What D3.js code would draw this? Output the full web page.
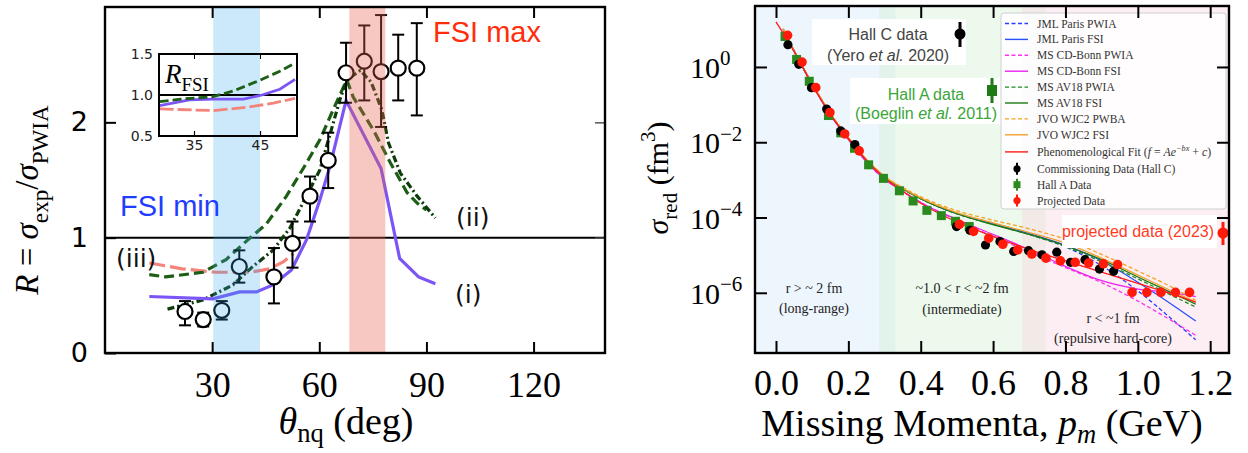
<!DOCTYPE html>
<html><head><meta charset="utf-8">
<script src="https://cdn.jsdelivr.net/npm/d3@7"></script>
<style>body{margin:0;background:#fff;} svg{display:block;}</style>
</head><body>
<svg id="c" width="1248" height="453"></svg>
<script>
// ================= LEFT PANEL DATA =================
const fsiMinBand = [30.3, 43.4];
const fsiMaxBand = [68.4, 78.5];
const thetaData = [22.4, 27.5, 32.7, 37.6, 47.3, 52.5, 57.4, 62.5, 67.5, 72.6, 77.3, 82.1, 87.3];
const RData     = [0.36, 0.29, 0.37, 0.75, 0.66, 0.95, 1.36, 1.67, 2.43, 2.53, 2.44, 2.47, 2.47];
const RErrLow   = [0.12, 0.06, 0.08, 0.14, 0.23, 0.21, 0.22, 0.24, 0.26, 0.34, 0.48, 0.28, 0.41];
const RErrHigh  = [0.09, 0.06, 0.08, 0.14, 0.25, 0.19, 0.17, 0.24, 0.26, 0.31, 0.49, 0.29, 0.39];

const curveI_theta = [12.4, 30.2, 37.7, 42.4, 47.0, 52.2, 56.4, 60.2, 63.0, 67.5, 77.3, 82.5, 87.8, 92.5];
const curveI_R     = [0.49, 0.47, 0.53, 0.53, 0.59, 0.72, 0.98, 1.33, 1.62, 2.19, 1.60, 0.82, 0.66, 0.60];
const curveDash_theta = [12.4, 17.0, 27.4, 33.9, 39.6, 45.2, 50.8, 55.5, 60.2, 63.9, 67.7, 69.5, 75.2, 79.9, 84.6, 87.4, 90.0];
const curveDash_R     = [0.68, 0.66, 0.70, 0.81, 0.97, 1.12, 1.36, 1.60, 1.85, 2.11, 2.37, 2.22, 1.93, 1.65, 1.39, 1.30, 1.24];
const curveDashDot_theta = [17.5, 27.4, 35.8, 41.4, 47.0, 51.7, 56.4, 60.2, 63.5, 65.8, 67.8, 71.5, 74.5, 77.5, 79.4, 82.7, 87.4, 92.5];
const curveDashDot_R     = [0.38, 0.46, 0.59, 0.75, 0.89, 1.08, 1.36, 1.59, 1.95, 2.20, 2.37, 2.45, 2.35, 2.11, 1.82, 1.56, 1.36, 1.17];
const curveIII_theta = [12.4, 21.7, 31.1, 40.5, 46.1, 49.9, 52.7];
const curveIII_R     = [0.78, 0.73, 0.70, 0.70, 0.73, 0.79, 0.86];

// inset (R_FSI)
const insetDash_theta = [29.8, 33.0, 37.9, 41.0, 45.0, 48.0, 50.3];
const insetDash_R     = [0.92, 0.95, 0.98, 1.05, 1.18, 1.29, 1.39];
const insetI_theta = [29.8, 34.3, 37.9, 42.5, 45.3, 48.0, 50.3];
const insetI_R     = [0.87, 0.94, 0.95, 0.95, 1.00, 1.07, 1.19];
const insetIII_theta = [29.8, 37.9, 43.0, 47.0, 50.3];
const insetIII_R     = [0.83, 0.81, 0.85, 0.90, 0.96];

const leftXTicks = [30, 60, 90, 120];
const leftYTicks = [0, 1, 2];
const insetXTicks = [35, 45];
const insetYTicks = [0.5, 1.0, 1.5];

// ================= RIGHT PANEL DATA (log10 of sigma_red in fm^3) =================
const regionBands = [[-0.058, 0.33], [0.285, 0.745], [0.68, 1.252]];
const pmModel = [0.02, 0.05, 0.1, 0.15, 0.2, 0.25, 0.3, 0.35, 0.4, 0.5, 0.6, 0.7, 0.8, 0.9, 1.0, 1.1, 1.16];
const jmlParisPWIA = [1.0, 0.42, -0.45, -1.25, -1.9, -2.48, -2.93, -3.23, -3.5, -3.9, -4.17, -4.45, -4.78, -5.28, -5.95, -6.75, -7.25];
const jmlParisFSI  = [1.0, 0.42, -0.45, -1.25, -1.9, -2.48, -2.93, -3.23, -3.5, -3.9, -4.17, -4.43, -4.74, -5.15, -5.72, -6.35, -6.75];
const msCDBonnPWIA = [1.0, 0.42, -0.46, -1.27, -1.93, -2.52, -2.98, -3.3, -3.6, -4.07, -4.5, -4.92, -5.33, -5.73, -6.22, -6.78, -7.13];
const msCDBonnFSI  = [1.0, 0.42, -0.46, -1.27, -1.93, -2.52, -2.98, -3.3, -3.6, -4.05, -4.45, -4.85, -5.3, -5.68, -5.9, -6.0, -6.1];
const msAV18PWIA   = [1.0, 0.42, -0.45, -1.25, -1.9, -2.48, -2.93, -3.24, -3.5, -3.9, -4.18, -4.45, -4.77, -5.18, -5.63, -6.1, -6.38];
const msAV18FSI    = [1.0, 0.42, -0.45, -1.25, -1.9, -2.48, -2.93, -3.24, -3.5, -3.9, -4.19, -4.45, -4.75, -5.12, -5.58, -6.03, -6.3];
const jvoWJC2PWBA  = [1.02, 0.44, -0.43, -1.22, -1.87, -2.45, -2.9, -3.2, -3.45, -3.82, -4.07, -4.3, -4.58, -4.98, -5.42, -5.88, -6.2];
const jvoWJC2FSI   = [1.01, 0.43, -0.44, -1.23, -1.88, -2.46, -2.91, -3.22, -3.48, -3.87, -4.14, -4.4, -4.68, -5.08, -5.53, -5.98, -6.25];
const fitPm  = [0.0, 0.05, 0.1, 0.15, 0.2, 0.25, 0.3, 0.35, 0.4, 0.5, 0.6, 0.7, 0.8, 0.9, 1.0, 1.1, 1.16];
const fitLog = [1.2, 0.42, -0.47, -1.25, -1.9, -2.48, -2.95, -3.3, -3.62, -4.12, -4.5, -4.85, -5.15, -5.45, -5.75, -6.05, -6.25];

const hallC_pm  = [0.033, 0.063, 0.098, 0.14, 0.179, 0.218, 0.499, 0.536, 0.579, 0.619, 0.657, 0.698, 0.735, 0.776, 0.814, 0.854, 0.894, 0.933];
const hallC_log = [0.59, 0.07, -0.55, -1.12, -1.70, -2.06, -4.24, -4.34, -4.73, -4.64, -4.90, -4.88, -4.99, -4.92, -5.19, -5.12, -5.37, -5.43];
const hallA_pm  = [0.025, 0.057, 0.092, 0.145, 0.179, 0.217, 0.256, 0.297, 0.341, 0.379, 0.417, 0.457, 0.496, 0.534];
const hallA_log = [0.81, 0.20, -0.38, -1.29, -1.75, -2.16, -2.60, -2.96, -3.29, -3.56, -3.81, -3.95, -4.10, -4.24];
const proj_pm  = [0.032, 0.072, 0.11, 0.149, 0.19, 0.23, 0.507, 0.546, 0.588, 0.627, 0.668, 0.707, 0.746, 0.786, 0.827, 0.864, 0.905, 0.944, 0.984, 1.025, 1.064, 1.104, 1.143];
const proj_log = [0.84, 0.13, -0.55, -1.21, -1.78, -2.23, -4.18, -4.37, -4.55, -4.71, -4.86, -4.97, -5.08, -5.15, -5.19, -5.21, -5.23, -5.25, -5.99, -5.99, -5.99, -5.99, -5.99];

const rightXTicks = [0.0, 0.2, 0.4, 0.6, 0.8, 1.0, 1.2];
const rightYExps = [0, -2, -4, -6];

const legendLabels = ["JML Paris PWIA", "JML Paris FSI", "MS CD-Bonn PWIA", "MS CD-Bonn FSI",
  "MS AV18 PWIA", "MS AV18 FSI", "JVO WJC2 PWBA", "JVO WJC2 FSI"];
const fitLabel = "Phenomenological Fit";
const markerLabels = ["Commissioning Data (Hall C)", "Hall A Data", "Projected Data"];

// ================= DRAWING =================
const svg = d3.select('#c');
svg.append('rect').attr('width', 1248).attr('height', 453).attr('fill', '#fff');
const SERIF = '"Liberation Serif", "DejaVu Serif", serif';
const SANS = '"Liberation Sans", Arial, sans-serif';
const DJV = '"DejaVu Sans", sans-serif';

function rich(sel, parts, size, subShift) {
  const sub = subShift == null ? 0.3 : subShift;
  let shift = 0;
  parts.forEach(([t, k]) => {
    const ts = sel.append('tspan').text(t);
    let target = 0, fs = size;
    if (k.includes('sub')) { target = sub * size; fs = size * 0.7; }
    if (k.includes('sup')) { target = -0.42 * size; fs = size * 0.7; }
    ts.attr('dy', target - shift).attr('font-size', fs);
    if (k.startsWith('i')) ts.attr('font-style', 'italic');
    shift = target;
  });
}
const zip = (a, b) => a.map((v, i) => [v, b[i]]);

// ---------- LEFT ----------
const xL = d3.scaleLinear().domain([0, 140]).range([105, 605]);
const yL = d3.scaleLinear().domain([0, 3]).range([353, 7]);
const L = svg.append('g');
L.append('clipPath').attr('id', 'clipL').append('rect')
  .attr('x', 105).attr('y', 7).attr('width', 500).attr('height', 346);
const Lp = L.append('g').attr('clip-path', 'url(#clipL)');

Lp.append('line').attr('x1', xL(0)).attr('x2', xL(140)).attr('y1', yL(1)).attr('y2', yL(1))
  .attr('stroke', '#000').attr('stroke-width', 2);

const lineL = d3.line().x(d => xL(d[0])).y(d => yL(d[1]));
Lp.append('path').attr('d', lineL(zip(curveIII_theta, curveIII_R))).attr('fill', 'none')
  .attr('stroke', '#f4837a').attr('stroke-width', 3.2).attr('stroke-dasharray', '16,5');
Lp.append('path').attr('d', lineL(zip(curveDash_theta, curveDash_R))).attr('fill', 'none')
  .attr('stroke', '#1d5e16').attr('stroke-width', 3.2).attr('stroke-dasharray', '10,5');
Lp.append('path').attr('d', lineL(zip(curveDashDot_theta, curveDashDot_R))).attr('fill', 'none')
  .attr('stroke', '#0d3b0a').attr('stroke-width', 3.2).attr('stroke-dasharray', '7,3,2,3');
Lp.append('path').attr('d', lineL(zip(curveI_theta, curveI_R))).attr('fill', 'none')
  .attr('stroke', '#7b55f5').attr('stroke-width', 3.2);

// data points
const pts = thetaData.map((t, i) => ({ t, r: RData[i], lo: RData[i] - RErrLow[i], hi: RData[i] + RErrHigh[i] }));
const eb = Lp.append('g').attr('stroke', '#000').attr('stroke-width', 2);
pts.forEach(p => {
  eb.append('line').attr('x1', xL(p.t)).attr('x2', xL(p.t)).attr('y1', yL(p.lo)).attr('y2', yL(p.hi));
  [p.lo, p.hi].forEach(v => eb.append('line').attr('x1', xL(p.t) - 6).attr('x2', xL(p.t) + 6)
    .attr('y1', yL(v)).attr('y2', yL(v)));
});
Lp.append('g').selectAll('circle').data(pts).join('circle')
  .attr('cx', d => xL(d.t)).attr('cy', d => yL(d.r)).attr('r', 7.5)
  .attr('fill', '#fff').attr('stroke', '#000').attr('stroke-width', 2.2);

// inset
const xI = d3.scaleLinear().domain([29.7, 50.6]).range([159, 297]);
const yI = d3.scaleLinear().domain([0.5, 1.5]).range([136, 54]);
L.append('clipPath').attr('id', 'clipI').append('rect').attr('x', 159).attr('y', 54).attr('width', 138).attr('height', 82);
const Ig = L.append('g');
const Ip = Ig.append('g').attr('clip-path', 'url(#clipI)');
Ip.append('line').attr('x1', 159).attr('x2', 297).attr('y1', yI(1)).attr('y2', yI(1)).attr('stroke', '#000').attr('stroke-width', 1.8);
const lineI = d3.line().x(d => xI(d[0])).y(d => yI(d[1]));
Ip.append('path').attr('d', lineI(zip(insetIII_theta, insetIII_R))).attr('fill', 'none')
  .attr('stroke', '#f4837a').attr('stroke-width', 2.8).attr('stroke-dasharray', '14,4');
Ip.append('path').attr('d', lineI(zip(insetI_theta, insetI_R))).attr('fill', 'none')
  .attr('stroke', '#7b55f5').attr('stroke-width', 2.8);
Ip.append('path').attr('d', lineI(zip(insetDash_theta, insetDash_R))).attr('fill', 'none')
  .attr('stroke', '#1d5e16').attr('stroke-width', 2.8).attr('stroke-dasharray', '9,4');
Ig.append('g').attr('transform', 'translate(0,136)')
  .call(d3.axisBottom(xI).tickValues(insetXTicks).tickSize(-5).tickPadding(4).tickFormat(d3.format('d')))
  .call(g => { g.select('.domain').remove(); g.selectAll('line').attr('stroke-width', 1.2);
    g.selectAll('text').attr('font-family', DJV).attr('font-size', 14).attr('fill', '#222'); });
Ig.append('g').attr('transform', 'translate(0,54)')
  .call(d3.axisTop(xI).tickValues(insetXTicks).tickSize(-5).tickFormat(''))
  .call(g => g.select('.domain').remove());
Ig.append('g').attr('transform', 'translate(159,0)')
  .call(d3.axisLeft(yI).tickValues(insetYTicks).tickSize(0).tickPadding(6).tickFormat(d3.format('.1f')))
  .call(g => { g.select('.domain').remove();
    g.selectAll('text').attr('font-family', DJV).attr('font-size', 14).attr('fill', '#222'); });
Ig.append('rect').attr('x', 159).attr('y', 54).attr('width', 138).attr('height', 82)
  .attr('fill', 'none').attr('stroke', '#000').attr('stroke-width', 2);
rich(Ig.append('text').attr('x', 165).attr('y', 83).attr('font-family', SERIF), [['R', 'i'], ['FSI', 'sub']], 27);

// bands (drawn over content, translucent)
Lp.append('rect').attr('x', xL(fsiMinBand[0])).attr('width', xL(fsiMinBand[1]) - xL(fsiMinBand[0]))
  .attr('y', 7).attr('height', 346).attr('fill', '#33a8f0').attr('opacity', 0.25);
Lp.append('rect').attr('x', xL(fsiMaxBand[0])).attr('width', xL(fsiMaxBand[1]) - xL(fsiMaxBand[0]))
  .attr('y', 7).attr('height', 346).attr('fill', '#e8604f').attr('opacity', 0.35);

// annotations
L.append('text').attr('x', 433).attr('y', 42).attr('font-family', SANS).attr('font-size', 29).attr('fill', '#ff2d0a').text('FSI max');
L.append('text').attr('x', 120).attr('y', 216).attr('font-family', SANS).attr('font-size', 29).attr('fill', '#1f3cff').text('FSI min');
L.append('text').attr('x', 456).attr('y', 226).attr('font-family', DJV).attr('font-size', 25).attr('fill', '#111').text('(ii)');
L.append('text').attr('x', 455).attr('y', 303).attr('font-family', DJV).attr('font-size', 25).attr('fill', '#111').text('(i)');
L.append('text').attr('x', 116).attr('y', 267).attr('font-family', DJV).attr('font-size', 25).attr('fill', '#111').text('(iii)');

// axes
L.append('g').attr('transform', 'translate(0,353)')
  .call(d3.axisBottom(xL).tickValues(leftXTicks).tickSize(-11).tickPadding(18))
  .call(g => { g.select('.domain').remove(); g.selectAll('line').attr('stroke-width', 2);
    g.selectAll('text').attr('font-family', SERIF).attr('font-size', 36).attr('fill', '#000'); });
L.append('g').attr('transform', 'translate(0,7)')
  .call(d3.axisTop(xL).tickValues(leftXTicks).tickSize(-11).tickFormat(''))
  .call(g => { g.select('.domain').remove(); g.selectAll('line').attr('stroke-width', 2); });
L.append('g').attr('transform', 'translate(105,0)')
  .call(d3.axisLeft(yL).tickValues(leftYTicks).tickSize(-11).tickPadding(17).tickFormat(d3.format('d')))
  .call(g => { g.select('.domain').remove(); g.selectAll('line').attr('stroke-width', 2);
    g.selectAll('text').attr('font-family', DJV).attr('font-size', 27).attr('fill', '#000'); });
L.append('g').attr('transform', 'translate(605,0)')
  .call(d3.axisRight(yL).tickValues([1, 2]).tickSize(-10).tickFormat(''))
  .call(g => { g.select('.domain').remove(); g.selectAll('line').attr('stroke-width', 1.5).attr('stroke', '#555'); });
L.append('rect').attr('x', 105).attr('y', 7).attr('width', 500).attr('height', 346)
  .attr('fill', 'none').attr('stroke', '#000').attr('stroke-width', 2.4);
rich(L.append('text').attr('x', 346).attr('y', 434).attr('text-anchor', 'middle').attr('font-family', SERIF),
  [['θ', 'i'], ['nq', 'sub'], [' (deg)', 'n']], 38, 0.22);
rich(L.append('text').attr('transform', 'translate(38,200) rotate(-90)').attr('text-anchor', 'middle').attr('font-family', SERIF),
  [['R', 'i'], [' = ', 'n'], ['σ', 'i'], ['exp', 'sub'], ['/', 'n'], ['σ', 'i'], ['PWIA', 'sub']], 33);

// ---------- RIGHT ----------
const xR = d3.scaleLinear().domain([-0.058, 1.252]).range([755, 1229]);
const yR = d3.scaleLog().domain([Math.pow(10, -7.6), Math.pow(10, 1.62)]).range([353, 6]);
const R = svg.append('g');
R.append('clipPath').attr('id', 'clipR').append('rect').attr('x', 755).attr('y', 6).attr('width', 474).attr('height', 347);
const Rp = R.append('g').attr('clip-path', 'url(#clipR)');
const bandFill = ['rgb(200,225,250)', 'rgb(200,235,195)', 'rgb(250,200,220)'];
regionBands.forEach((b, i) => Rp.append('rect').attr('x', xR(b[0])).attr('width', xR(b[1]) - xR(b[0]))
  .attr('y', 6).attr('height', 347).attr('fill', bandFill[i]).attr('opacity', 0.3));

const lineR = d3.line().x(d => xR(d[0])).y(d => yR(Math.pow(10, d[1]))).curve(d3.curveMonotoneX);
const models = [
  { v: jmlParisPWIA, c: '#2a3cff', dash: '4,2.5' },
  { v: jmlParisFSI, c: '#2a50ff', dash: null },
  { v: msCDBonnPWIA, c: '#ff33ee', dash: '4,2.5' },
  { v: msCDBonnFSI, c: '#ee22ee', dash: null },
  { v: msAV18PWIA, c: '#1f8a1f', dash: '4,2.5' },
  { v: msAV18FSI, c: '#1a7a12', dash: null },
  { v: jvoWJC2PWBA, c: '#f6a21e', dash: '4,2.5' },
  { v: jvoWJC2FSI, c: '#f0a030', dash: null },
];
models.forEach(m => Rp.append('path').attr('d', lineR(zip(pmModel, m.v))).attr('fill', 'none')
  .attr('stroke', m.c).attr('stroke-width', 1.3).attr('stroke-dasharray', m.dash));
Rp.append('path').attr('d', lineR(zip(fitPm, fitLog))).attr('fill', 'none').attr('stroke', '#ff1a1a').attr('stroke-width', 1.3);

Rp.append('g').selectAll('rect').data(zip(hallA_pm, hallA_log)).join('rect')
  .attr('x', d => xR(d[0]) - 4.5).attr('y', d => yR(Math.pow(10, d[1])) - 4.5).attr('width', 9).attr('height', 9).attr('fill', '#2a8a1e');
Rp.append('g').selectAll('circle').data(zip(hallC_pm, hallC_log)).join('circle')
  .attr('cx', d => xR(d[0])).attr('cy', d => yR(Math.pow(10, d[1]))).attr('r', 4.6).attr('fill', '#000');
Rp.append('g').selectAll('circle').data(zip(proj_pm, proj_log)).join('circle')
  .attr('cx', d => xR(d[0])).attr('cy', d => yR(Math.pow(10, d[1]))).attr('r', 4.8).attr('fill', '#ff1a0a');

// region labels
const rl = R.append('g').attr('font-family', SERIF).attr('font-size', 14).attr('fill', '#222').attr('text-anchor', 'middle');
rl.append('text').attr('x', 814).attr('y', 293).text('r  > ~ 2 fm');
rl.append('text').attr('x', 814).attr('y', 313).text('(long-range)');
rl.append('text').attr('x', 962).attr('y', 293).text('~1.0 < r < ~2 fm');
rl.append('text').attr('x', 962).attr('y', 314).text('(intermediate)');
rl.append('text').attr('x', 1113).attr('y', 323).text('r < ~1 fm');
rl.append('text').attr('x', 1113).attr('y', 343).text('(repulsive hard-core)');

// annotation boxes
R.append('rect').attr('x', 812).attr('y', 19).attr('width', 154).attr('height', 46).attr('fill', '#fff');
R.append('text').attr('x', 888).attr('y', 40).attr('text-anchor', 'middle').attr('font-family', SANS).attr('font-size', 16).attr('fill', '#444').text('Hall C data');
rich(R.append('text').attr('x', 888).attr('y', 61).attr('text-anchor', 'middle').attr('font-family', SANS).attr('fill', '#444'),
  [['(Yero ', 'n'], ['et al.', 'i'], [' 2020)', 'n']], 16);
R.append('line').attr('x1', 960).attr('x2', 960).attr('y1', 22).attr('y2', 47).attr('stroke', '#000').attr('stroke-width', 3);
R.append('circle').attr('cx', 960).attr('cy', 34).attr('r', 5.5).attr('fill', '#000');

R.append('rect').attr('x', 850).attr('y', 78).attr('width', 152).attr('height', 46).attr('fill', '#fff');
R.append('text').attr('x', 926).attr('y', 100).attr('text-anchor', 'middle').attr('font-family', SANS).attr('font-size', 16).attr('fill', '#3aa53a').text('Hall A data');
rich(R.append('text').attr('x', 926).attr('y', 119).attr('text-anchor', 'middle').attr('font-family', SANS).attr('fill', '#3aa53a'),
  [['(Boeglin ', 'n'], ['et al.', 'i'], [' 2011)', 'n']], 16);
R.append('line').attr('x1', 992).attr('x2', 992).attr('y1', 78).attr('y2', 103).attr('stroke', '#1e7a14').attr('stroke-width', 3);
R.append('rect').attr('x', 987).attr('y', 85).attr('width', 10).attr('height', 11).attr('fill', '#1e7a14');

R.append('rect').attr('x', 1062).attr('y', 215).attr('width', 155).attr('height', 33).attr('fill', '#fff');
R.append('text').attr('x', 1138).attr('y', 237).attr('text-anchor', 'middle').attr('font-family', SANS).attr('font-size', 16).attr('fill', '#ff3b1f').text('projected data (2023)');
R.append('line').attr('x1', 1223).attr('x2', 1223).attr('y1', 222).attr('y2', 245).attr('stroke', '#ff1a0a').attr('stroke-width', 3);
R.append('circle').attr('cx', 1223).attr('cy', 233).attr('r', 5.5).attr('fill', '#ff1a0a');

// legend
const lg = R.append('g');
lg.append('rect').attr('x', 1001).attr('y', 13).attr('width', 225).attr('height', 196).attr('rx', 3)
  .attr('fill', '#fff').attr('fill-opacity', 0.85).attr('stroke', '#cfcfcf').attr('stroke-width', 1);
const ly = i => 23.5 + i * 15.9 + (i >= 8 ? 1.2 : 0) + (i >= 9 ? 1 : 0);
models.forEach((m, i) => {
  lg.append('line').attr('x1', 1005).attr('x2', 1028).attr('y1', ly(i)).attr('y2', ly(i))
    .attr('stroke', m.c).attr('stroke-width', 1.4).attr('stroke-dasharray', m.dash);
  lg.append('text').attr('x', 1037).attr('y', ly(i) + 4).attr('font-family', SERIF).attr('font-size', 11.5).attr('fill', '#333').text(legendLabels[i]);
});
lg.append('line').attr('x1', 1005).attr('x2', 1028).attr('y1', ly(8)).attr('y2', ly(8)).attr('stroke', '#ff1a1a').attr('stroke-width', 1.4);
rich(lg.append('text').attr('x', 1037).attr('y', ly(8) + 4).attr('font-family', SERIF).attr('fill', '#333'),
  [[fitLabel + ' (', 'n'], ['f', 'i'], [' = ', 'n'], ['Ae', 'i'], ['−bx', 'isup'], [' + ', 'n'], ['c', 'i'], [')', 'n']], 11.8);
const mk = [['#000', 'c'], ['#2a8a1e', 's'], ['#ff1a0a', 'c']];
mk.forEach((m, j) => {
  const y = ly(9 + j), x = 1017;
  lg.append('line').attr('x1', x).attr('x2', x).attr('y1', y - 6).attr('y2', y + 6).attr('stroke', m[0]).attr('stroke-width', 2);
  if (m[1] === 'c') lg.append('circle').attr('cx', x).attr('cy', y).attr('r', 3.6).attr('fill', m[0]);
  else lg.append('rect').attr('x', x - 3.5).attr('y', y - 3.5).attr('width', 7).attr('height', 7).attr('fill', m[0]);
  lg.append('text').attr('x', 1037).attr('y', y + 4).attr('font-family', SERIF).attr('font-size', 11.5).attr('fill', '#333').text(markerLabels[j]);
});

// axes right
R.append('g').attr('transform', 'translate(0,353)')
  .call(d3.axisBottom(xR).tickValues(rightXTicks).tickSize(-12).tickPadding(16).tickFormat(d3.format('.1f')))
  .call(g => { g.select('.domain').remove(); g.selectAll('line').attr('stroke-width', 2);
    g.selectAll('text').attr('font-family', SERIF).attr('font-size', 36).attr('fill', '#000'); });
R.append('g').attr('transform', 'translate(0,6)')
  .call(d3.axisTop(xR).tickValues(rightXTicks).tickSize(-12).tickFormat(''))
  .call(g => { g.select('.domain').remove(); g.selectAll('line').attr('stroke-width', 2); });
const yTickVals = rightYExps.map(e => Math.pow(10, e));
R.append('g').attr('transform', 'translate(755,0)')
  .call(d3.axisLeft(yR).tickValues(yTickVals).tickSize(-12).tickFormat(''))
  .call(g => { g.select('.domain').remove(); g.selectAll('line').attr('stroke-width', 2); });
R.append('g').attr('transform', 'translate(1229,0)')
  .call(d3.axisRight(yR).tickValues(yTickVals).tickSize(-12).tickFormat(''))
  .call(g => { g.select('.domain').remove(); g.selectAll('line').attr('stroke-width', 2); });
rightYExps.forEach(e => {
  rich(R.append('text').attr('x', 690).attr('y', yR(Math.pow(10, e)) + 11).attr('font-family', SERIF),
    [['10', 'n'], [e === 0 ? '0' : '−' + Math.abs(e), 'sup']], 30);
});
R.append('rect').attr('x', 755).attr('y', 6).attr('width', 474).attr('height', 347)
  .attr('fill', 'none').attr('stroke', '#000').attr('stroke-width', 2.4);
rich(R.append('text').attr('x', 982).attr('y', 436).attr('text-anchor', 'middle').attr('font-family', SERIF),
  [['Missing Momenta, ', 'n'], ['p', 'i'], ['m', 'isub'], [' (GeV)', 'n']], 38, 0.18);
rich(R.append('text').attr('transform', 'translate(668,178) rotate(-90)').attr('text-anchor', 'middle').attr('font-family', SERIF),
  [['σ', 'i'], ['red', 'sub'], [' (fm', 'n'], ['3', 'sup'], [')', 'n']], 30);
</script>
</body></html>
